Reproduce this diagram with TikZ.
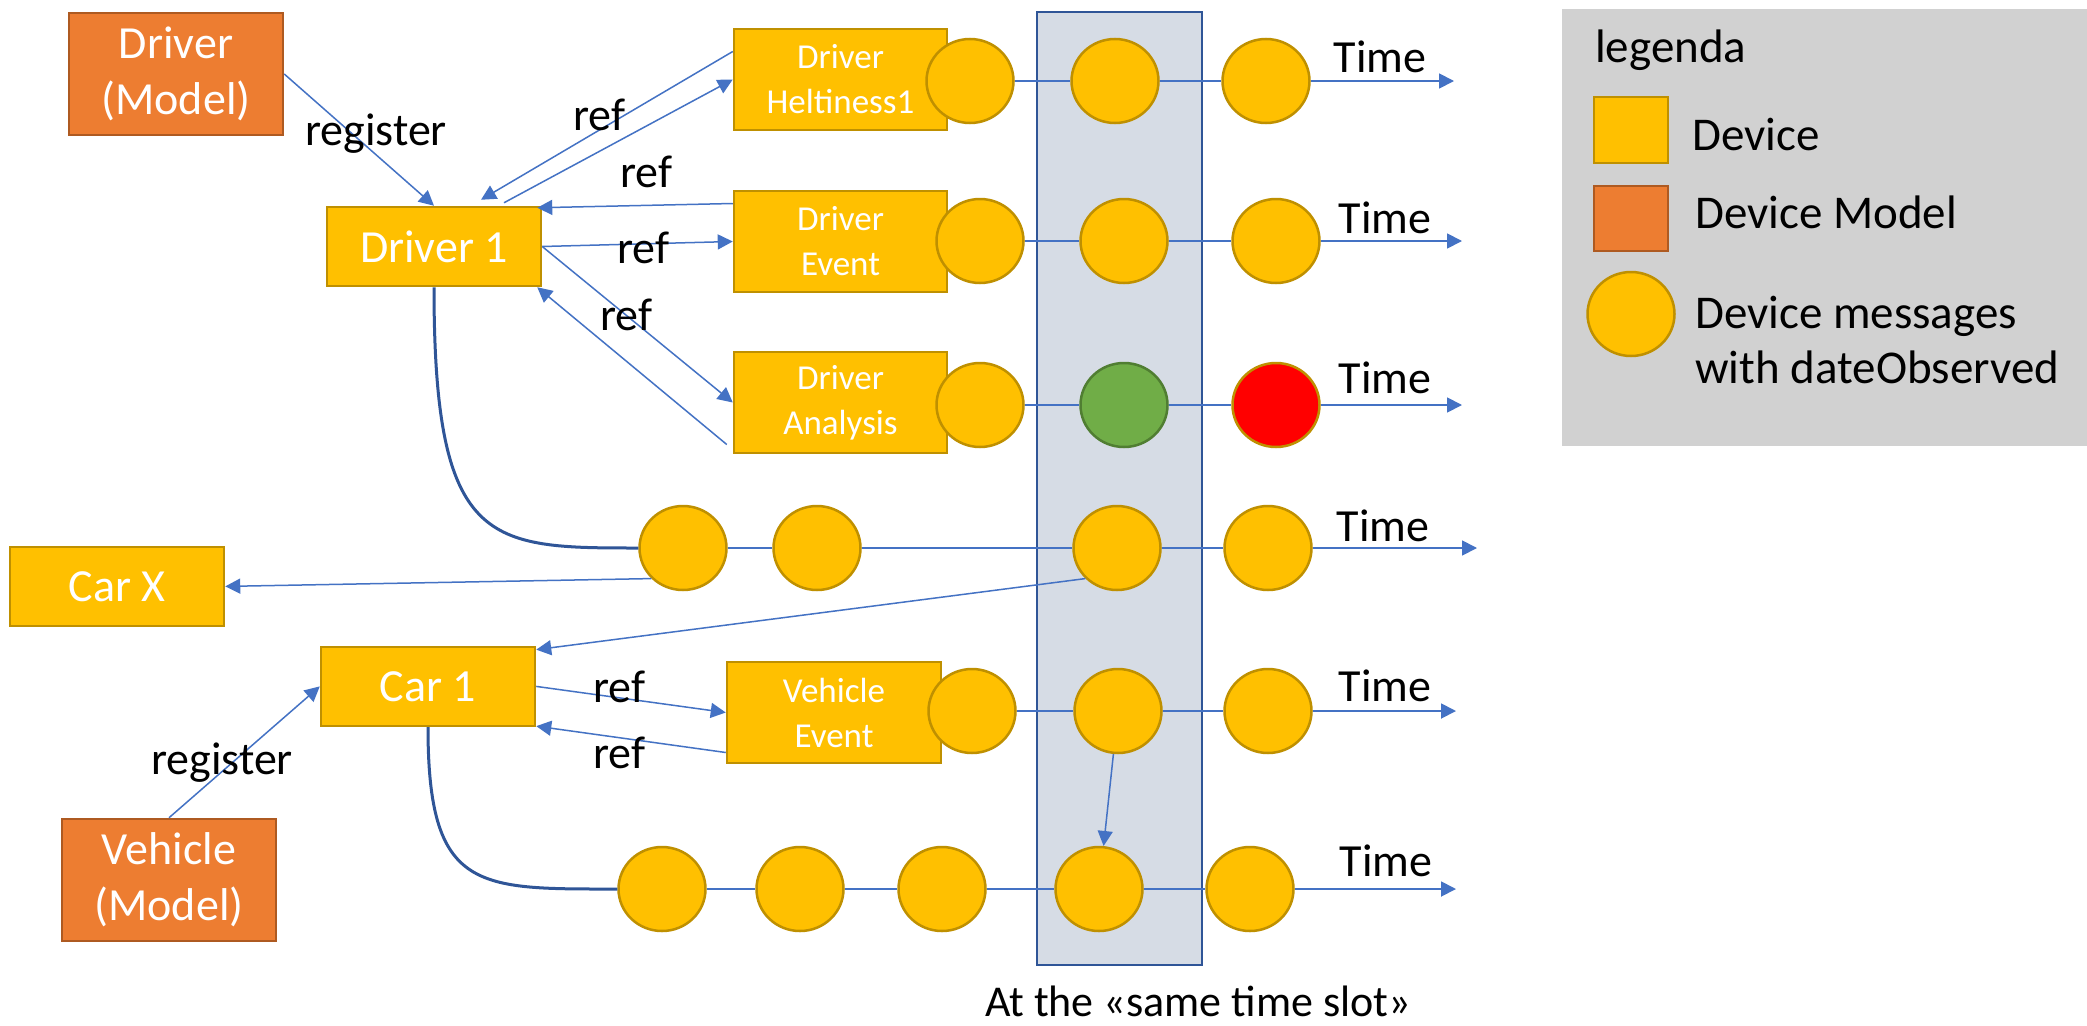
\documentclass[tikz,border=0pt]{standalone}
\usepackage{fontspec}
\setmainfont{Carlito}
\usetikzlibrary{arrows.meta,calc,shapes.geometric}
\definecolor{ygold}{RGB}{255,192,0}
\definecolor{ygoldb}{RGB}{191,144,0}
\definecolor{orng}{RGB}{237,125,49}
\definecolor{orngb}{RGB}{174,90,33}
\definecolor{lblue}{RGB}{68,114,196}
\definecolor{dblue}{RGB}{47,85,151}
\definecolor{slotfill}{RGB}{214,220,229}
\definecolor{leggray}{RGB}{209,209,209}
\definecolor{grn}{RGB}{112,173,71}
\definecolor{grnb}{RGB}{80,126,50}
\pgfdeclarelayer{back}
\pgfsetlayers{back,main}
\begin{document}
\begin{tikzpicture}[x=1pt,y=-1pt,
 dev/.style={draw=ygoldb,fill=ygold,line width=2.5pt,text=white,align=center,inner sep=0pt,minimum width=214pt},
 bigtxt/.style={font=\fontsize{46}{56}\selectfont},
 smalltxt/.style={font=\fontsize{35}{45}\selectfont},
 model/.style={draw=orngb,fill=orng,line width=2.5pt,text=white,align=center,inner sep=0pt,minimum width=214pt,minimum height=122pt,font=\fontsize{46}{56}\selectfont},
 msg/.style={ellipse,draw=ygoldb,fill=ygold,line width=2.5pt,minimum width=87pt,minimum height=84pt,inner sep=0pt},
 ar/.style={draw=lblue,line width=1.5pt,-{Triangle[length=15pt,width=15pt]}},
 tl/.style={draw=lblue,line width=1.8pt},
 crv/.style={draw=dblue,line width=3pt},
 lbl/.style={font=\fontsize{46}{56}\selectfont,anchor=base,inner sep=0pt},
 legtxt/.style={font=\fontsize{47}{56}\selectfont,anchor=base west,inner sep=0pt},
]
\useasboundingbox (0,0) rectangle (2087,1025);
\begin{pgfonlayer}{back}
\fill[white] (0,0) rectangle (2087,1025);
\node[draw=dblue,fill=slotfill,line width=2.5pt,minimum width=165pt,minimum height=953pt,inner sep=0pt] (slot) at (1119.5,488.5) {};
\node[fill=leggray,minimum width=530pt,minimum height=437pt,inner sep=0pt] (legbox) at (1827,227.5) {};
\end{pgfonlayer}

% devices
\node[model] (dmodel) at (176,74) {Driver\\(Model)};
\node[dev,bigtxt,minimum height=79pt] (driver1) at (434,246.5) {Driver 1};
\node[dev,smalltxt,minimum width=213pt,minimum height=101pt] (dh) at (840.5,79.5) {Driver\\Heltiness1};
\node[dev,smalltxt,minimum width=213pt,minimum height=101pt] (de) at (840.5,241.5) {Driver\\Event};
\node[dev,smalltxt,minimum width=213pt,minimum height=101pt] (da) at (840.5,402.5) {Driver\\Analysis};
\node[dev,bigtxt,minimum height=79pt] (carx) at (117,586.4) {Car X};
\node[dev,bigtxt,minimum height=79pt] (car1) at (428,686.4) {Car 1};
\node[dev,smalltxt,minimum height=101pt] (ve) at (834,712.5) {Vehicle\\Event};
\node[model] (vmodel) at (169,880) {Vehicle\\(Model)};

% messages
\node[msg] (r1a) at (970,81) {};
\node[msg] (r1b) at (1115,81) {};
\node[msg] (r1c) at (1266,81) {};
\coordinate (t1) at (1454,81);
\node[msg] (r2a) at (980,241) {};
\node[msg] (r2b) at (1124,241) {};
\node[msg] (r2c) at (1276,241) {};
\coordinate (t2) at (1462,241);
\node[msg] (r3a) at (980,405) {};
\node[msg,fill=grn,draw=grnb] (r3b) at (1124,405) {};
\node[msg,fill=red] (r3c) at (1276,405) {};
\coordinate (t3) at (1462,405);
\node[msg] (r4a) at (683,548) {};
\node[msg] (r4b) at (817,548) {};
\node[msg] (r4c) at (1117,548) {};
\node[msg] (r4d) at (1268,548) {};
\coordinate (t4) at (1477,548);
\node[msg] (r5a) at (972,711) {};
\node[msg] (r5b) at (1118,711) {};
\node[msg] (r5c) at (1268,711) {};
\coordinate (t5) at (1456,711);
\node[msg] (r6a) at (662,889) {};
\node[msg] (r6b) at (800,889) {};
\node[msg] (r6c) at (942,889) {};
\node[msg] (r6d) at (1099,889) {};
\node[msg] (r6e) at (1250,889) {};
\coordinate (t6) at (1456,889);

% timelines
\draw[tl] (r1a) -- (r1b) -- (r1c);
\draw[tl,-{Triangle[length=15pt,width=15pt]}] (r1c) -- (t1);
\draw[tl] (r2a) -- (r2b) -- (r2c);
\draw[tl,-{Triangle[length=15pt,width=15pt]}] (r2c) -- (t2);
\draw[tl] (r3a) -- (r3b) -- (r3c);
\draw[tl,-{Triangle[length=15pt,width=15pt]}] (r3c) -- (t3);
\draw[tl] (r4a) -- (r4b) -- (r4c) -- (r4d);
\draw[tl,-{Triangle[length=15pt,width=15pt]}] (r4d) -- (t4);
\draw[tl] (r5a) -- (r5b) -- (r5c);
\draw[tl,-{Triangle[length=15pt,width=15pt]}] (r5c) -- (t5);
\draw[tl] (r6a) -- (r6b) -- (r6c) -- (r6d) -- (r6e);
\draw[tl,-{Triangle[length=15pt,width=15pt]}] (r6e) -- (t6);

% curves
\draw[crv] (driver1.south) .. controls +(0,260) and +(-150,0) .. (r4a.west);
\draw[crv] (car1.south) .. controls +(0,165) and +(-140,0) .. (r6a.west);

% arrows
\draw[ar] (dmodel.east) -- (driver1.north);
\draw[ar] ($(dh.west)+(0,-28)$) -- ($(driver1.north)+(47,-6)$);
\draw[ar] ($(driver1.north)+(70,-3)$) -- (dh.west);
\draw[ar] ($(de.west)+(0,-38)$) -- ($(driver1.north east)+(-5,2)$);
\draw[ar] (driver1.east) -- (de.west);
\draw[ar] (driver1.east) -- (da.west);
\draw[ar] ($(da.west)+(-6,42)$) -- ($(driver1.south east)+(-5,0)$);
\draw[ar] (r4a.south west) -- (carx.east);
\draw[ar] (r4c.south west) -- ($(car1.north east)+(0,4)$);
\draw[ar] (car1.east) -- (ve.west);
\draw[ar] ($(ve.west)+(0,40)$) -- ($(car1.south east)+(0,-1)$);
\draw[ar] (vmodel.north) -- (car1.west);
\draw[ar] (r5b) -- (r6d);

% labels
\node[lbl] (lreg1) at (376,145) {register};
\node[lbl] (lrefa) at (599,130) {ref};
\node[lbl] (lrefb) at (646,187) {ref};
\node[lbl] (lrefc) at (643,263) {ref};
\node[lbl] (lrefd) at (626,330) {ref};
\node[lbl] (lrefe) at (619,702) {ref};
\node[lbl] (lreff) at (619,768) {ref};
\node[lbl] (lreg2) at (222,774) {register};
\node[lbl] (time1) at (1380,73) {Time};
\node[lbl] (time2) at (1385,233) {Time};
\node[lbl] (time3) at (1385,393) {Time};
\node[lbl] (time4) at (1383,541) {Time};
\node[lbl] (time5) at (1385,701) {Time};
\node[lbl] (time6) at (1386,876) {Time};
\node[lbl,font=\fontsize{44}{52}\selectfont] (slotlbl) at (1198,1016) {At the «same time slot»};

% legend
\node[legtxt] (legtitle) at (1595,63) {legenda};
\node[draw=ygoldb,fill=ygold,line width=2.5pt,minimum width=74pt,minimum height=66pt,inner sep=0pt] (legdev) at (1631,130) {};
\node[legtxt] (legdevt) at (1692,150) {Device};
\node[draw=orngb,fill=orng,line width=2.5pt,minimum width=74pt,minimum height=65pt,inner sep=0pt] (legmod) at (1631,218.5) {};
\node[legtxt] (legmodt) at (1695,228) {Device Model};
\node[msg] (legmsg) at (1631,314) {};
\node[legtxt] (legmsgt1) at (1695,328) {Device messages};
\node[legtxt] (legmsgt2) at (1695,383) {with dateObserved};
\end{tikzpicture}
\end{document}
